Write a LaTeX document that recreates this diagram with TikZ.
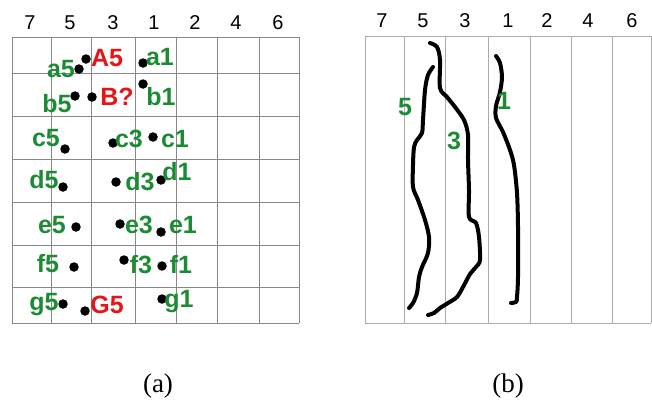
\documentclass[tikz,border=0pt]{standalone}
\usepackage{fontspec}
\setmainfont{Liberation Serif}
\setsansfont{Liberation Sans}
\definecolor{lblgreen}{RGB}{28,140,52}
\definecolor{lblred}{RGB}{230,20,20}
\definecolor{gridA}{RGB}{140,135,135}
\definecolor{gridB}{RGB}{170,170,170}
\tikzset{
  hdr/.style={font=\sffamily\fontsize{20}{20}\selectfont, anchor=base, inner sep=0pt},
  glbl/.style={font=\sffamily\bfseries\fontsize{25}{25}\selectfont, text=lblgreen, anchor=base, inner sep=0pt},
  rlbl/.style={font=\sffamily\bfseries\fontsize{25}{25}\selectfont, text=lblred, anchor=base, inner sep=0pt},
  dot/.style={circle, fill=black, inner sep=0pt, minimum size=9.5pt},
  gla/.style={draw=gridA, line width=0.9pt},
  glb/.style={draw=gridB, line width=0.9pt},
  stroke/.style={line width=4pt, line cap=round, line join=round},
  captxt/.style={font=\fontsize{27}{27}\selectfont, inner sep=0pt}
}
\begin{document}
\begin{tikzpicture}[x=1pt,y=-1pt]
\useasboundingbox (0,0) rectangle (652,399);
% ---------- panel (a) grid ----------
\foreach \x in {12,51,91,135,176,217,259,299} \draw[gla] (\x,37) -- (\x,323);
\foreach \y in {37,73,116,159,202,245,287,323} \draw[gla] (12,\y) -- (299,\y);
% headers (a)
\node[hdr] (ha7) at (30,29) {7};
\node[hdr] (ha5) at (70,29) {5};
\node[hdr] (ha3) at (113,29) {3};
\node[hdr] (ha1) at (154,29) {1};
\node[hdr] (ha2) at (195,29) {2};
\node[hdr] (ha4) at (236,29) {4};
\node[hdr] (ha6) at (278,29) {6};
% dots
\node[dot] (pa5) at (79,69) {};
\node[dot] (pA5) at (86,59) {};
\node[dot] (pa1) at (143,63) {};
\node[dot] (pb5) at (75,96) {};
\node[dot] (pB) at (92,97) {};
\node[dot] (pb1) at (143,84) {};
\node[dot] (pc5) at (65,149) {};
\node[dot] (pc3) at (113,143) {};
\node[dot] (pc1) at (153,137) {};
\node[dot] (pd5) at (63,187) {};
\node[dot] (pd3) at (116,182) {};
\node[dot] (pd1) at (161,180) {};
\node[dot] (pe5) at (76,227) {};
\node[dot] (pe3) at (120,224) {};
\node[dot] (pe1) at (161,232) {};
\node[dot] (pf5) at (74,267) {};
\node[dot] (pf3) at (124,260) {};
\node[dot] (pf1) at (162,266) {};
\node[dot] (pg5) at (63,304) {};
\node[dot] (pG5) at (85,311) {};
\node[dot] (pg1) at (162,299) {};
% labels
\node[glbl] (la5) at (61,77) {a5};
\node[rlbl] (lA5) at (107,66) {A5};
\node[glbl] (la1) at (160,65) {a1};
\node[glbl] (lb5) at (57,112) {b5};
\node[rlbl] (lB) at (117,105) {B?};
\node[glbl] (lb1) at (161,105) {b1};
\node[glbl] (lc5) at (46,146) {c5};
\node[glbl] (lc3) at (129,147) {c3};
\node[glbl] (lc1) at (175,147) {c1};
\node[glbl] (ld5) at (44,188) {d5};
\node[glbl] (ld3) at (140,190) {d3};
\node[glbl] (ld1) at (177,180) {d1};
\node[glbl] (le5) at (52,233) {e5};
\node[glbl] (le3) at (139,233) {e3};
\node[glbl] (le1) at (183,233) {e1};
\node[glbl] (lf5) at (48,272) {f5};
\node[glbl] (lf3) at (141,273) {f3};
\node[glbl] (lf1) at (181,273) {f1};
\node[glbl] (lg5) at (44,310) {g5};
\node[rlbl] (lG5) at (107,313) {G5};
\node[glbl] (lg1) at (179,307) {g1};
% ---------- panel (b) grid ----------
\foreach \x in {365,404,445,488,530,571,612,651} \draw[glb] (\x,36) -- (\x,323);
\draw[glb] (365,36) -- (651,36);
\draw[glb] (365,323) -- (651,323);
% headers (b)
\node[hdr] (hb7) at (382,27) {7};
\node[hdr] (hb5) at (423,27) {5};
\node[hdr] (hb3) at (465,27) {3};
\node[hdr] (hb1) at (508,27) {1};
\node[hdr] (hb2) at (547,27) {2};
\node[hdr] (hb4) at (588,27) {4};
\node[hdr] (hb6) at (632,27) {6};
% curves
\draw[stroke] plot[smooth, tension=0.5] coordinates {
 (430,43) (437,47) (440,60) (440,88) (447,97) (455,107) (464,120) (468,135)
 (468,160) (469,190) (469,217) (476,223) (479,237) (480,260) (476,267)
 (470,274) (463,287) (457,297) (448,303) (440,308) (434,313) (428,315)};
\draw[stroke] plot[smooth, tension=0.5] coordinates {
 (433,67) (428,75) (425,90) (423,120) (422,133) (417,140) (414,147)
 (413,165) (413,187) (418,200) (425,220) (429,237) (428,253) (422,267)
 (419,277) (417,293) (413,303) (409,308)};
\draw[stroke] plot[smooth, tension=0.5] coordinates {
 (496,56) (500,63) (502,77) (500,92) (496,106) (496,118) (503,132)
 (510,150) (514,165) (517,193) (518,227) (518,277) (517,297) (516,302) (511,303)};
\node[glbl] (lb5c) at (405,115) {5};
\node[glbl] (lb3c) at (454,149) {3};
\node[glbl] (lb1c) at (504,109) {1};
% captions
\node[captxt] (capa) at (158,386) {(a)};
\node[captxt] (capb) at (508,386) {(b)};
\end{tikzpicture}
\end{document}
